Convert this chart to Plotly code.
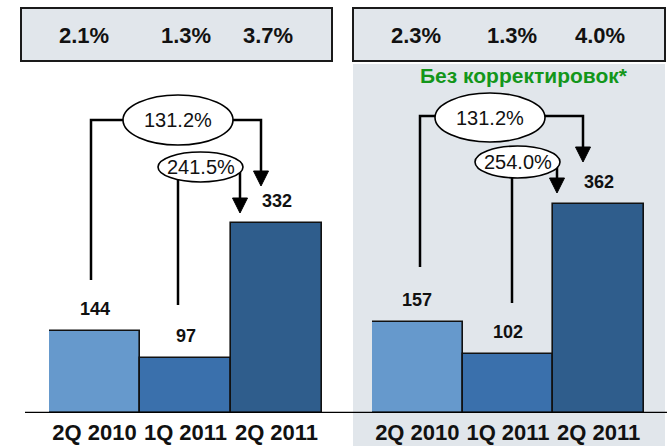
import plotly.graph_objects as go

# --- data -------------------------------------------------------------
periods = ["2Q 2010", "1Q 2011", "2Q 2011"]
adjusted = [144, 97, 332]          # left panel
unadjusted = [157, 102, 362]       # right panel ("Без корректировок")
share_left = ["2.1%", "1.3%", "3.7%"]
share_right = ["2.3%", "1.3%", "4.0%"]
growth_left = ["131.2%", "241.5%"]   # 2Q10->2Q11, 1Q11->2Q11
growth_right = ["131.2%", "254.0%"]
note = "Без корректировок*"

bar_colors = ["#6699CC", "#3A70AC", "#2F5D8C"]
panel_bg = "#E1E6EB"
FONT = "Liberation Sans, Arial, sans-serif"

W, H = 667, 446
BASE = 413  # pixel row of the baseline

# panel geometry (pixels): plot x-range and vertical scale (px per unit)
panels = [
    dict(xa="x", ya="y", x0=49, x1=322, scale=0.572, values=adjusted,
         shares=share_left, share_x=[84, 186, 268], growth=growth_left,
         geo=dict(big_x=91, big_from=280, top=120, ell1=(123, 233, 95, 145),
                  big_ax=261, big_tip=186, small_x=178, small_from=305,
                  ell2=(158, 243, 152, 182), small_ax=240, small_tip=213)),
    dict(xa="x2", ya="y2", x0=372, x1=644, scale=0.578, values=unadjusted,
         shares=share_right, share_x=[416, 512, 600], growth=growth_right,
         geo=dict(big_x=420, big_from=267, top=116, ell1=(435, 545, 93, 142),
                  big_ax=583, big_tip=162, small_x=512, small_from=303,
                  ell2=(475, 560, 146, 178), small_ax=557, small_tip=193)),
]

fig = go.Figure()
shapes = []
annots = []


def label(**kw):
    kw.setdefault("showarrow", False)
    kw.setdefault("xanchor", "center")
    kw.setdefault("yanchor", "middle")
    annots.append(kw)


# right panel background and the two top boxes
shapes.append(dict(type="rect", xref="paper", yref="paper", layer="below",
                   x0=353 / W, x1=665 / W, y0=0, y1=(H - 64) / H,
                   fillcolor=panel_bg, line_width=0))
for bx0, bx1 in [(21, 332), (353, 665)]:
    shapes.append(dict(type="rect", xref="paper", yref="paper", layer="below",
                       x0=bx0 / W, x1=bx1 / W, y0=(H - 61) / H, y1=(H - 8) / H,
                       fillcolor=panel_bg, line=dict(color="#1A1A1A", width=2)))

for p in panels:
    bw = (p["x1"] - p["x0"]) / 3.0

    def cx(px, p=p, bw=bw):
        return (px - p["x0"]) / bw - 0.5

    def vy(py, p=p):
        return (BASE - py) / p["scale"]

    fig.add_trace(go.Bar(
        x=list(range(3)), y=p["values"], xaxis=p["xa"], yaxis=p["ya"],
        marker=dict(color=bar_colors, line=dict(color="#111111", width=1.6)),
        width=1.0, showlegend=False, hoverinfo="skip"))

    for i, v in enumerate(p["values"]):
        label(xref=p["xa"], yref=p["ya"], x=i, y=v, yshift=22,
              text=f"<b>{v}</b>",
              font=dict(size=18, color="#111111", family=FONT))

    for t, sx in zip(p["shares"], p["share_x"]):
        label(xref="paper", yref="paper", x=sx / W, y=(H - 35) / H,
              text=f"<b>{t}</b>",
              font=dict(size=22, color="#111111", family=FONT))

    g = p["geo"]
    ln = dict(color="#000000", width=2.5)
    xr, yr = p["xa"], p["ya"]
    e2y = (g["ell2"][2] + g["ell2"][3]) / 2
    arrow_h, arrow_w = 15, 15

    # big bracket (2Q10 -> 2Q11)
    path = (f"M {cx(g['big_x'])},{vy(g['big_from'])} L {cx(g['big_x'])},{vy(g['top'])} "
            f"L {cx(g['big_ax'])},{vy(g['top'])} L {cx(g['big_ax'])},{vy(g['big_tip'] - arrow_h + 2)}")
    shapes.append(dict(type="path", xref=xr, yref=yr, path=path, line=ln))
    # small bracket (1Q11 -> 2Q11)
    shapes.append(dict(type="line", xref=xr, yref=yr,
                       x0=cx(g["small_x"]), x1=cx(g["small_x"]),
                       y0=vy(g["small_from"]), y1=vy(e2y), line=ln))
    shapes.append(dict(type="line", xref=xr, yref=yr,
                       x0=cx(g["small_ax"]), x1=cx(g["small_ax"]),
                       y0=vy(e2y), y1=vy(g["small_tip"] - arrow_h + 2), line=ln))
    # arrow heads
    for ax_, tip in [(g["big_ax"], g["big_tip"]), (g["small_ax"], g["small_tip"])]:
        tri = (f"M {cx(ax_ - arrow_w / 2)},{vy(tip - arrow_h)} "
               f"L {cx(ax_ + arrow_w / 2)},{vy(tip - arrow_h)} L {cx(ax_)},{vy(tip)} Z")
        shapes.append(dict(type="path", xref=xr, yref=yr, path=tri,
                           fillcolor="#000000", line=dict(color="#000000", width=1)))
    # ellipses with growth rates
    for (ex0, ex1, ey0, ey1), t in zip([g["ell1"], g["ell2"]], p["growth"]):
        shapes.append(dict(type="circle", xref=xr, yref=yr,
                           x0=cx(ex0), x1=cx(ex1), y0=vy(ey1), y1=vy(ey0),
                           fillcolor="#FFFFFF", line=dict(color="#000000", width=1.6)))
        label(xref=xr, yref=yr, x=cx((ex0 + ex1) / 2), y=vy((ey0 + ey1) / 2),
              text=t, font=dict(size=20, color="#111111", family=FONT))

# common baseline
shapes.append(dict(type="line", xref="paper", yref="y", x0=25 / W, x1=1,
                   y0=0, y1=0, line=dict(color="#000000", width=2.5)))

label(xref="paper", yref="paper", x=524 / W, y=(H - 75) / H,
      text=f"<b>{note}</b>",
      font=dict(size=21, color="#13961A", family=FONT))

ydom = [(H - BASE) / H, 1]
axis_x = dict(tickmode="array", tickvals=list(range(3)), ticktext=periods,
              range=[-0.5, 2.5], showgrid=False, zeroline=False, showline=False,
              ticks="", ticklabelstandoff=4,
              tickfont=dict(size=22, color="#111111", family=FONT, weight="bold"))
fig.update_layout(
    width=W, height=H, margin=dict(l=0, r=0, t=0, b=0),
    paper_bgcolor="#FFFFFF", plot_bgcolor="rgba(0,0,0,0)",
    bargap=0, showlegend=False,
    xaxis=dict(axis_x, domain=[panels[0]["x0"] / W, panels[0]["x1"] / W], anchor="y"),
    xaxis2=dict(axis_x, domain=[panels[1]["x0"] / W, panels[1]["x1"] / W], anchor="y2"),
    yaxis=dict(domain=ydom, range=[0, BASE / panels[0]["scale"]], visible=False),
    yaxis2=dict(domain=ydom, range=[0, BASE / panels[1]["scale"]], visible=False,
                anchor="x2"),
    shapes=shapes, annotations=annots,
)

# the page's default body margin would push the 667x446 figure off-screen
fig.write_html("out.html", config={"displayModeBar": False},
               post_script="document.body.style.margin='0';")
